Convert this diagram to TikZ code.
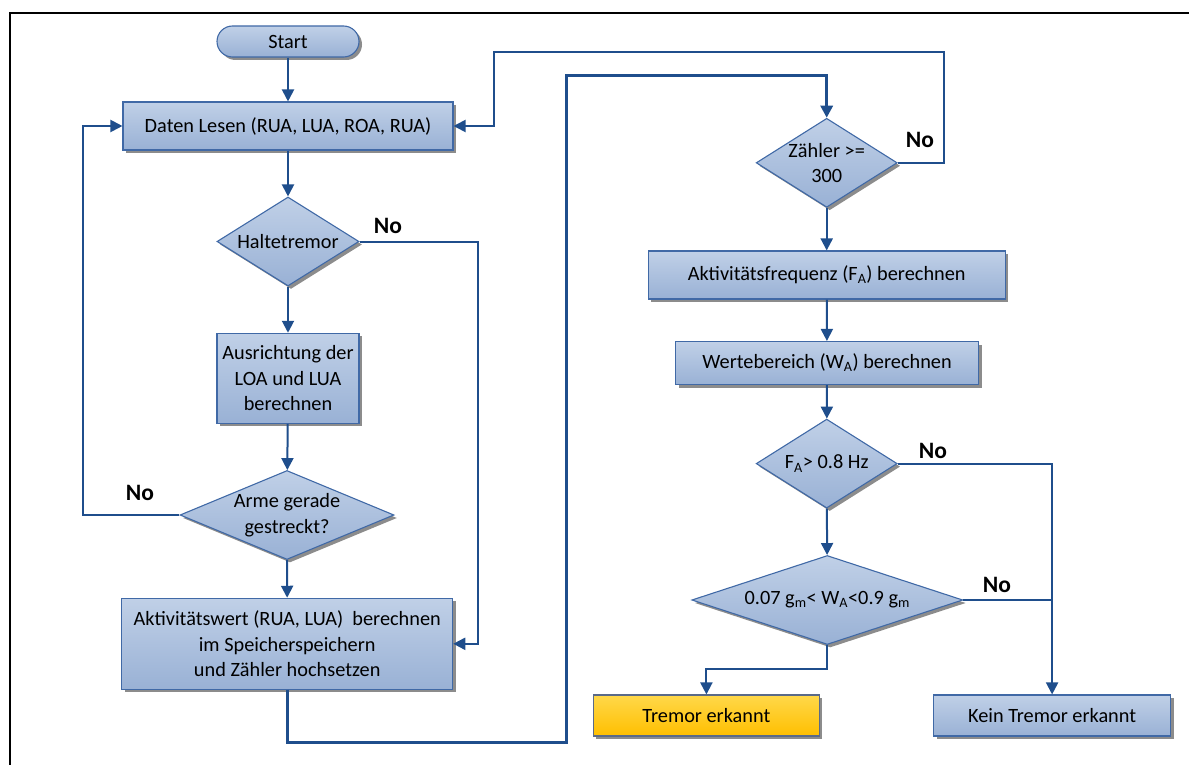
\documentclass[tikz,border=0pt]{standalone}
\usepackage{fontspec}
\setmainfont{Carlito}
\usetikzlibrary{shapes.geometric,shadows,arrows.meta}
\definecolor{boxtop}{HTML}{C0D0E7}
\definecolor{boxbot}{HTML}{99B1D5}
\definecolor{boxline}{HTML}{4069A6}
\definecolor{conncol}{HTML}{1F4E8C}
\definecolor{yeltop}{HTML}{FFD84A}
\definecolor{yelbot}{HTML}{FFBF00}
\definecolor{yelline}{HTML}{5A6A88}
\newcommand{\lowidx}[1]{\textsubscript{#1}}
\tikzset{
  txt/.style={font=\fontsize{20.3}{25.5}\selectfont, align=center},
  shade/.style={drop shadow={shadow xshift=3pt, shadow yshift=-3pt, fill=black!45, opacity=1}},
  procbox/.style={shape=rectangle, draw=boxline, line width=1.1pt, top color=boxtop, bottom color=boxbot,
    inner sep=0pt, shade, txt},
  yelbox/.style={shape=rectangle, draw=yelline, line width=1.1pt, top color=yeltop, bottom color=yelbot,
    inner sep=0pt, shade, txt},
  termbox/.style={procbox, rounded corners=15.5pt},
  decide/.style={shape=diamond, draw=boxline, line width=1.1pt, top color=boxtop, bottom color=boxbot,
    inner sep=0pt, shade},
  conn/.style={draw=conncol, line width=2pt, -{Triangle[length=12pt,width=12pt]}},
  plain/.style={draw=conncol, line width=2pt},
  heavy/.style={draw=conncol, line width=3pt, -{Triangle[length=12pt,width=12pt]}},
  nolabel/.style={font=\fontsize{23.5}{26}\selectfont\bfseries, inner sep=0pt},
}
\begin{document}
\begin{tikzpicture}[x=1pt,y=-1pt]
\useasboundingbox (0,0) rectangle (1189,765);
% page frame (top and left edges)
\draw[line width=2pt] (10,765) -- (10,12.7) -- (1189,12.7);

% left column
\node[termbox, minimum width=142pt, minimum height=31pt] (start) at (288,41.5) {Start};
\node[procbox, minimum width=330pt, minimum height=48pt] (daten) at (288,126) {Daten Lesen (RUA, LUA, ROA, RUA)};
\node[decide, minimum width=142pt, minimum height=89pt,
  label={[txt]center:Haltetremor}] (halte) at (288,241.5) {};
\node[procbox, minimum width=142pt, minimum height=90pt] (ausr) at (288,378.3)
  {Ausrichtung der\\LOA und LUA\\berechnen};
\node[decide, minimum width=214pt, minimum height=89pt,
  label={[txt]center:Arme gerade\\gestreckt?}] (arme) at (287,515) {};
\node[procbox, minimum width=331pt, minimum height=91pt] (aktw) at (287.2,643.8)
  {Aktivitätswert (RUA, LUA)\ \ berechnen\\im Speicherspeichern\\und Zähler hochsetzen};

% right column
\node[decide, minimum width=141pt, minimum height=89pt,
  label={[txt]center:Zähler >=\\300}] (zaehler) at (826.7,162.8) {};
\node[procbox, minimum width=357pt, minimum height=48pt] (freq) at (826.7,275)
  {Aktivitätsfrequenz (F\lowidx{A}) berechnen};
\node[procbox, minimum width=303pt, minimum height=43pt] (werte) at (827,363)
  {Wertebereich (W\lowidx{A}) berechnen};
\node[decide, minimum width=141pt, minimum height=89pt,
  label={[txt]center:F\lowidx{A}> 0.8 Hz}] (fa) at (826.7,463.6) {};
\node[decide, minimum width=271pt, minimum height=89pt,
  label={[txt]center:0.07 g\lowidx{m}< W\lowidx{A}<0.9 g\lowidx{m}}] (wa) at (827.3,600) {};
\node[yelbox, minimum width=226pt, minimum height=41pt] (tremor) at (706.4,715.5) {Tremor erkannt};
\node[procbox, minimum width=237pt, minimum height=41pt] (kein) at (1052.1,715.5) {Kein Tremor erkannt};

% "No" labels
\node[nolabel] (no1) at (388,226) {No};
\node[nolabel] (no2) at (140,493) {No};
\node[nolabel] (no3) at (920,140) {No};
\node[nolabel] (no4) at (933,451) {No};
\node[nolabel] (no5) at (997,585) {No};

% bend points
\coordinate (haltR) at (478.4,643.8);
\coordinate (armeL) at (83,126);
\coordinate (loopA) at (566.4,742.7);
\coordinate (loopB) at (566.4,76);
\coordinate (zR) at (943.9,52.3);
\coordinate (zL) at (493.7,52.3);
\coordinate (wbend) at (827.3,669);

% main flow, left
\draw[conn] (start) -- (daten);
\draw[conn] (daten) -- (halte);
\draw[conn] (halte) -- (ausr);
\draw[conn] (ausr) -- (arme);
\draw[conn] (arme) -- (aktw);
\draw[conn] (halte.east) -| (haltR) -- (aktw.east);
\draw[conn] (arme.west) -| (armeL) -- (daten.west);

% hand-over to the right column
\draw[heavy] (aktw.south) |- (loopA) -- (loopB) -| (zaehler.north);
\draw[conn] (zaehler.east) -| (zR) -- (zL) |- (daten.east);

% main flow, right
\draw[conn] (zaehler) -- (freq);
\draw[conn] (freq) -- (werte);
\draw[conn] (werte) -- (fa);
\draw[conn] (fa) -- (wa);
\draw[conn] (fa.east) -| (kein.north);
\draw[plain] (wa.east) -- (kein.north |- wa.east);
\draw[conn] (wa.south) -- (wbend) -| (tremor.north);
\end{tikzpicture}
\end{document}
